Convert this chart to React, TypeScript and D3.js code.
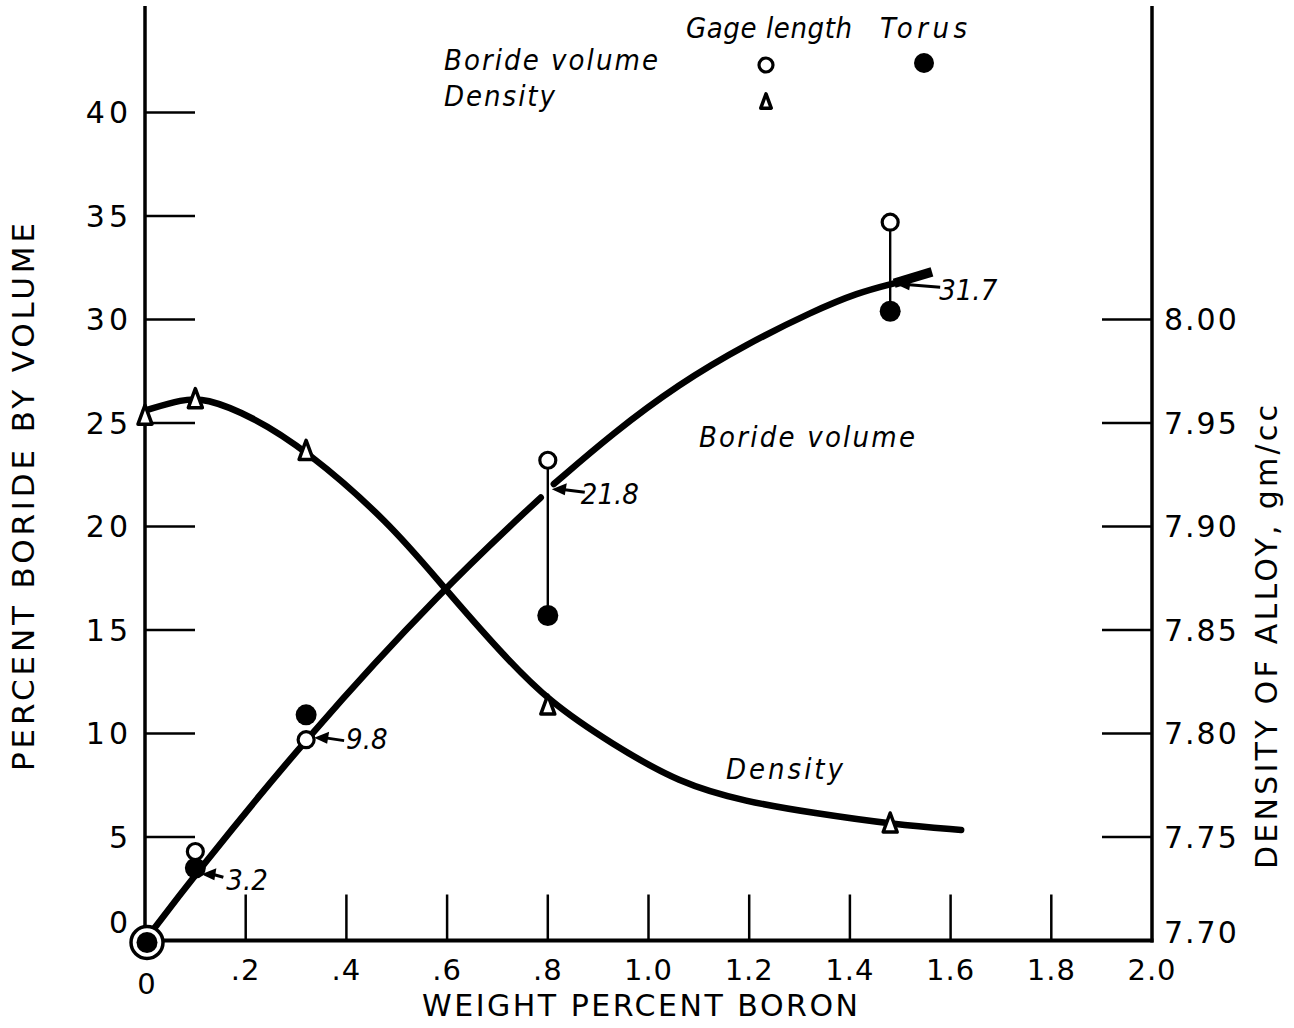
import React from "react";
import * as d3 from "d3";

// ---------- data ----------
const xTicks = [0.2, 0.4, 0.6, 0.8, 1.0, 1.2, 1.4, 1.6, 1.8];
const xTickLabels = ["0", ".2", ".4", ".6", ".8", "1.0", "1.2", "1.4", "1.6", "1.8", "2.0"];
const xLabelValues = [0, 0.2, 0.4, 0.6, 0.8, 1.0, 1.2, 1.4, 1.6, 1.8, 2.0];
const leftTicks = [5, 10, 15, 20, 25, 30, 35, 40];
const leftLabelValues = [0, 5, 10, 15, 20, 25, 30, 35, 40];
const leftTickLabels = ["0", "5", "10", "15", "20", "25", "30", "35", "40"];
const rightTicks = [7.75, 7.8, 7.85, 7.9, 7.95, 8.0];
const rightLabelValues = [7.7, 7.75, 7.8, 7.85, 7.9, 7.95, 8.0];
const rightTickLabels = ["7.70", "7.75", "7.80", "7.85", "7.90", "7.95", "8.00"];

// measured points
const gageX = [0.1, 0.32, 0.8, 1.48];
const gageBoride = [4.3, 9.7, 23.2, 34.7];
const torusX = [0.1, 0.32, 0.8, 1.48];
const torusBoride = [3.5, 10.9, 15.7, 30.4];
const densityX = [0, 0.1, 0.32, 0.8, 1.48];
const densityVal = [7.954, 7.962, 7.937, 7.814, 7.757];

// drawn curves
const borideCurve1X = [0, 0.1, 0.32, 0.592, 0.786];
const borideCurve1Y = [0, 3.2, 9.8, 17.0, 21.4];
const borideCurve2X = [0.812, 0.927, 1.061, 1.194, 1.327, 1.416, 1.488];
const borideCurve2Y = [22.05, 24.47, 26.9, 28.8, 30.4, 31.3, 31.75];
const borideEndX = [1.488, 1.563];
const borideEndY = [31.75, 32.3];
const densityCurveX = [0, 0.075, 0.12, 0.21, 0.32, 0.485, 0.592, 0.707, 0.804, 0.927, 1.061, 1.194, 1.327, 1.488, 1.621];
const densityCurveY = [7.956, 7.9615, 7.962, 7.9535, 7.937, 7.902, 7.871, 7.839, 7.815, 7.795, 7.776, 7.767, 7.7616, 7.756, 7.7534];

// interpolated readings
const noteX = [0.1, 0.32, 0.8, 1.48];
const noteY = [3.2, 9.8, 21.8, 31.7];
const noteText = ["3.2", "9.8", "21.8", "31.7"];

// ---------- layout ----------
const W = 1294, H = 1028;
const noteTail = [22, 30, 33, 44];
const noteTip = [6, 8, 4, 6];
const noteTextDx = [33, 40, 37, 51];
const noteTextDy = [16, 11, 15, 16];

const x = d3.scaleLinear().domain([0, 2]).range([145, 1152]);
const yL = d3.scaleLinear().domain([0, 40]).range([940.5, 112.5]);
const yR = d3.scaleLinear().domain([7.7, 8.0]).range([940.5, 319.5]);

const FONT = "'DejaVu Sans', sans-serif";
const IFONT = "'DejaVu Sans Condensed', 'DejaVu Sans', sans-serif";

const zip = (xs: number[], ys: number[]) => xs.map((v, i) => [v, ys[i]] as [number, number]);

function Arrow({ tx, ty, len }: { tx: number; ty: number; len: number }) {
  const head = 15;
  return (
    <g>
      <line x1={tx + head - 2} y1={ty + 0.5} x2={tx + len} y2={ty + 3} stroke="#000" strokeWidth={3} />
      <path d={`M${tx},${ty} L${tx + head},${ty - 6} L${tx + head - 2},${ty + 6} Z`} fill="#000" />
    </g>
  );
}

function Tri({ cx, cy, s = 1 }: { cx: number; cy: number; s?: number }) {
  const h = 19 * s, w = 14 * s;
  return (
    <path
      d={`M${cx},${cy - h / 2} L${cx + w / 2},${cy + h / 2} L${cx - w / 2},${cy + h / 2} Z`}
      fill="#fff"
      stroke="#000"
      strokeWidth={3.5}
      strokeLinejoin="round"
    />
  );
}

export default function App() {
  const lineL = d3
    .line<[number, number]>()
    .x((d) => x(d[0]))
    .y((d) => yL(d[1]))
    .curve(d3.curveBasis);
  const lineR = d3
    .line<[number, number]>()
    .x((d) => x(d[0]))
    .y((d) => yR(d[1]))
    .curve(d3.curveBasis);

  const axisY0 = yL(0);
  const ital = { fontFamily: IFONT, fontStyle: "italic" as const, fontSize: 29 };
  return (
    <svg
      width={W}
      height={H}
      viewBox={`0 0 ${W} ${H}`}
      style={{ position: "absolute", left: 0, top: 0, background: "#fff" }}
      fontFamily={FONT}
    >
      <rect x={0} y={0} width={W} height={H} fill="#fff" />

      {/* axes */}
      <line x1={x(0)} y1={6} x2={x(0)} y2={axisY0 + 2} stroke="#000" strokeWidth={3.5} />
      <line x1={x(2)} y1={6} x2={x(2)} y2={axisY0 + 2} stroke="#000" strokeWidth={3.5} />
      <line x1={x(0)} y1={axisY0} x2={x(2) + 1.5} y2={axisY0} stroke="#000" strokeWidth={4} />

      {xTicks.map((t) => (
        <line key={"xt" + t} x1={x(t)} y1={axisY0} x2={x(t)} y2={axisY0 - 46} stroke="#000" strokeWidth={2.5} />
      ))}
      {leftTicks.map((t) => (
        <line key={"lt" + t} x1={x(0)} y1={yL(t)} x2={x(0) + 50} y2={yL(t)} stroke="#000" strokeWidth={2.5} />
      ))}
      {rightTicks.map((t) => (
        <line key={"rt" + t} x1={x(2)} y1={yR(t)} x2={x(2) - 50} y2={yR(t)} stroke="#000" strokeWidth={2.5} />
      ))}

      {/* tick labels */}
      {xLabelValues.map((v, i) => (
        <text
          key={"xl" + i}
          x={x(v) + (i === 0 ? 2 : 0)}
          y={i === 0 ? 994 : 980}
          fontSize={29}
          textAnchor="middle"
          letterSpacing={1}
        >
          {xTickLabels[i]}
        </text>
      ))}
      {leftLabelValues.map((v, i) => (
        <text
          key={"ll" + i}
          x={132}
          y={yL(v) + (i === 0 ? -18 : 0)}
          fontSize={30}
          textAnchor="end"
          dominantBaseline="central"
          letterSpacing={4}
        >
          {leftTickLabels[i]}
        </text>
      ))}
      {rightLabelValues.map((v, i) => (
        <text
          key={"rl" + i}
          x={1164}
          y={yR(v) + (i === 0 ? -8 : 0)}
          fontSize={30}
          textAnchor="start"
          dominantBaseline="central"
          letterSpacing={2}
        >
          {rightTickLabels[i]}
        </text>
      ))}

      {/* axis titles */}
      <text x={640} y={1016} fontSize={30} textAnchor="middle" textLength={436} lengthAdjust="spacing">
        WEIGHT PERCENT BORON
      </text>
      <text
        transform="translate(34,497) rotate(-90)"
        fontSize={31}
        textAnchor="middle"
        textLength={548}
        lengthAdjust="spacing"
      >
        PERCENT BORIDE BY VOLUME
      </text>
      <text
        transform="translate(1277,637) rotate(-90)"
        fontSize={30}
        textAnchor="middle"
        textLength={464}
        lengthAdjust="spacing"
      >
        DENSITY OF ALLOY, gm/cc
      </text>

      {/* density curve */}
      <path d={lineR(zip(densityCurveX, densityCurveY)) || ""} fill="none" stroke="#000" strokeWidth={6.5} strokeLinecap="round" />

      {/* boride curve */}
      <path d={lineL(zip(borideCurve1X, borideCurve1Y)) || ""} fill="none" stroke="#000" strokeWidth={6.5} strokeLinecap="round" />
      <path d={lineL(zip(borideCurve2X, borideCurve2Y)) || ""} fill="none" stroke="#000" strokeWidth={6.5} strokeLinecap="round" />
      <path d={lineL(zip(borideEndX, borideEndY)) || ""} fill="none" stroke="#000" strokeWidth={9.5} strokeLinecap="butt" />

      {/* connectors between gage and torus */}
      {gageX.map((gx, i) =>
        gx >= 0.8 ? (
          <line key={"c" + i} x1={x(gx)} y1={yL(gageBoride[i])} x2={x(torusX[i])} y2={yL(torusBoride[i])} stroke="#000" strokeWidth={2.4} />
        ) : null
      )}

      {/* torus (filled) */}
      {torusX.map((tx, i) => (
        <circle key={"t" + i} cx={x(tx)} cy={yL(torusBoride[i])} r={10.5} fill="#000" />
      ))}
      {/* gage length (open) */}
      {gageX.map((gx, i) => (
        <circle key={"g" + i} cx={x(gx)} cy={yL(gageBoride[i])} r={8} fill="#fff" stroke="#000" strokeWidth={3.2} />
      ))}
      {/* origin: both methods coincide */}
      <circle cx={x(0) + 2} cy={yL(0) + 2} r={16} fill="#fff" stroke="#000" strokeWidth={3.5} />
      <circle cx={x(0) + 2} cy={yL(0) + 2} r={10.5} fill="#000" />

      {/* density triangles */}
      {densityX.map((dx, i) => (
        <Tri key={"d" + i} cx={x(dx)} cy={yR(densityVal[i])} />
      ))}

      {/* value notes */}
      {noteX.map((nx, i) => (
        <g key={"n" + i}>
          <Arrow tx={x(nx) + noteTip[i]} ty={yL(noteY[i])} len={noteTail[i]} />
          <text x={x(nx) + noteTip[i] + noteTextDx[i] - 8} y={yL(noteY[i]) + noteTextDy[i]} {...ital}>
            {noteText[i]}
          </text>
        </g>
      ))}

      {/* curve labels */}
      <text x={699} y={447} {...ital} textLength={216} lengthAdjust="spacing">
        Boride volume
      </text>
      <text x={726} y={779} {...ital} textLength={117} lengthAdjust="spacing">
        Density
      </text>

      {/* legend */}
      <text x={686} y={38} {...ital} textLength={166} lengthAdjust="spacing">
        Gage length
      </text>
      <text x={880} y={38} {...ital} textLength={87} lengthAdjust="spacing">
        Torus
      </text>
      <text x={444} y={70} {...ital} textLength={214} lengthAdjust="spacing">
        Boride volume
      </text>
      <text x={444} y={106} {...ital} textLength={111} lengthAdjust="spacing">
        Density
      </text>
      <circle cx={766} cy={65} r={7} fill="#fff" stroke="#000" strokeWidth={3.2} />
      <circle cx={924} cy={63} r={10} fill="#000" />
      <Tri cx={766} cy={101} s={0.75} />
    </svg>
  );
}
